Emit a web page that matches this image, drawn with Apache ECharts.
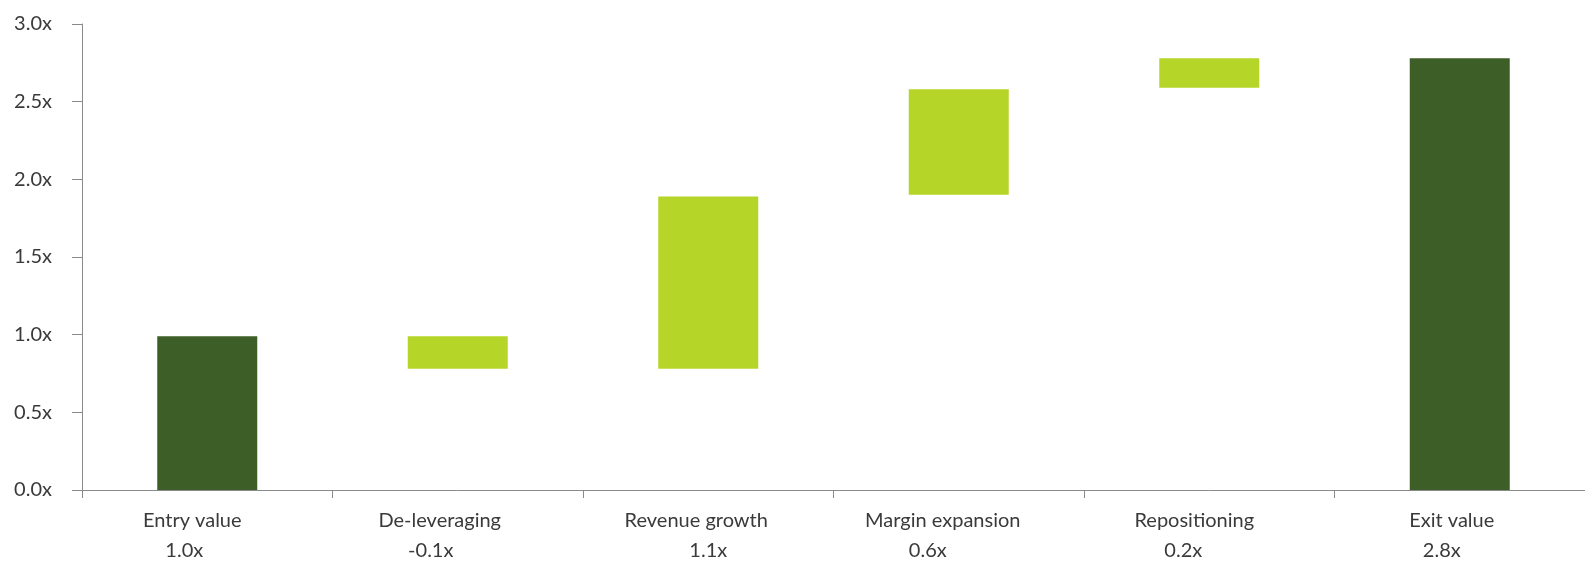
<!DOCTYPE html>
<html>
<head>
<meta charset="utf-8">
<script src="https://cdn.jsdelivr.net/npm/echarts@6/dist/echarts.min.js"></script>
<style>
  html, body { margin: 0; padding: 0; background: #fff; }
  #chart { width: 1585px; height: 561px; }
</style>
</head>
<body>
<div id="chart"></div>
<script>
const categories = ["Entry value", "De-leveraging", "Revenue growth", "Margin expansion", "Repositioning", "Exit value"];
const stepLabels = ["1.0x", "-0.1x", "1.1x", "0.6x", "0.2x", "2.8x"];
// bottom and top of each floating bar
const lows = [0, 0.78, 0.78, 1.90, 2.59, 0];
const highs = [0.99, 0.99, 1.89, 2.58, 2.78, 2.78];
const isTotal = [true, false, false, false, false, true];

const dark = "#3d5e27";
const light = "#b5d629";

// the source labels sit a little left of the bar centres
const nameShift = [15, 18, 12, 16, 15, 8];
const stepShift = [23, 27, 0, 31, 26, 18];

const rich = {};
categories.forEach((c, i) => {
  const base = { fontSize: 20, lineHeight: 30, fontFamily: "Lato", color: "#3a3a3a" };
  rich["a" + i] = Object.assign({ padding: [0, nameShift[i] * 2, 0, 0] }, base);
  rich["b" + i] = Object.assign({ padding: [0, stepShift[i] * 2, 0, 0] }, base);
});

const chart = echarts.init(document.getElementById("chart"));
chart.setOption({
  animation: false,
  grid: { left: 82, right: -13, top: 24, bottom: 71 },
  xAxis: {
    type: "category",
    data: categories,
    axisLine: { lineStyle: { color: "#8a8a8a", width: 1 } },
    axisTick: { show: true, length: 8, lineStyle: { color: "#8a8a8a" } },
    axisLabel: {
      interval: 0,
      margin: 16,
      color: "#3a3a3a",
      fontFamily: "Lato",
      fontSize: 20,
      formatter: (v, i) => "{a" + i + "|" + v + "}\n{b" + i + "|" + stepLabels[i] + "}",
      rich: rich
    }
  },
  yAxis: {
    type: "value",
    min: 0,
    max: 3,
    interval: 0.5,
    axisLine: { show: true, lineStyle: { color: "#8a8a8a" } },
    axisTick: { show: true, length: 10, lineStyle: { color: "#8a8a8a" } },
    splitLine: { show: false },
    axisLabel: {
      margin: 30,
      fontSize: 20,
      color: "#3a3a3a",
      fontFamily: "Lato",
      formatter: v => v.toFixed(1) + "x"
    }
  },
  series: [
    {
      name: "base",
      type: "bar",
      stack: "w",
      barWidth: 100,
      itemStyle: { color: "transparent" },
      data: lows,
      silent: true
    },
    {
      name: "step",
      type: "bar",
      stack: "w",
      barWidth: 100,
      data: highs.map((h, i) => ({
        value: +(h - lows[i]).toFixed(2),
        itemStyle: { color: isTotal[i] ? dark : light }
      }))
    }
  ]
});
</script>
</body>
</html>
